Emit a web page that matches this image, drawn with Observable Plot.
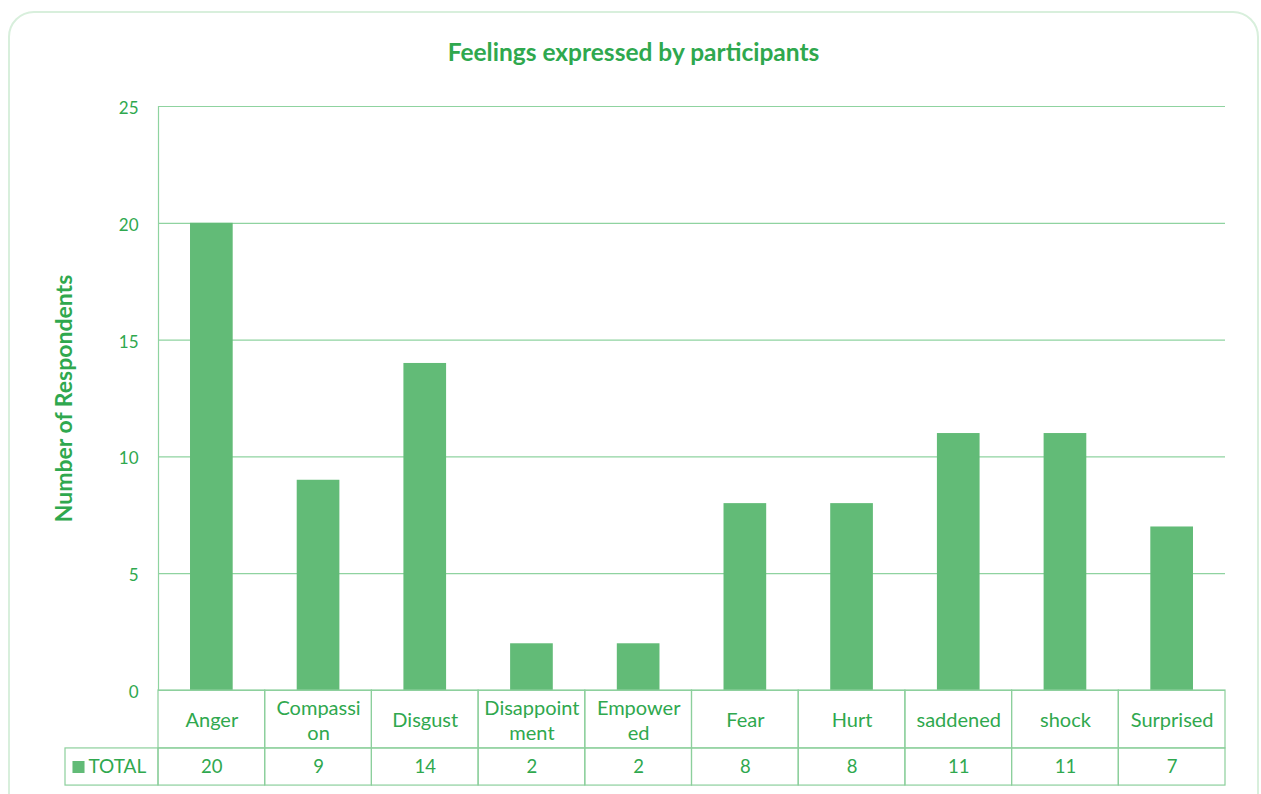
<!DOCTYPE html>
<html><head><meta charset="utf-8">
<script src="https://cdn.jsdelivr.net/npm/d3@7"></script>
<script src="https://cdn.jsdelivr.net/npm/@observablehq/plot@0.6"></script>
<style>
body{margin:0;background:#fff;}
#wrap{position:relative;width:1261px;height:794px;overflow:hidden;font-family:Lato,"Open Sans",sans-serif;}
#card{position:absolute;left:8px;top:11px;width:1251px;height:820px;border:2px solid #d8efdc;border-radius:26px;box-sizing:border-box;}
#title{position:absolute;left:8px;width:1251px;top:37px;text-align:center;color:#2fa84e;font-weight:bold;font-size:24.5px;}
#chart{position:absolute;left:0;top:0;}
</style></head><body>
<div id="wrap"><div id="card"></div><div id="title">Feelings expressed by participants</div><div id="chart"></div></div>
<script>
const feelings = ["Anger","Compassion","Disgust","Disappointment","Empowered","Fear","Hurt","saddened","shock","Surprised"];
const labels = ["Anger","Compassi\non","Disgust","Disappoint\nment","Empower\ned","Fear","Hurt","saddened","shock","Surprised"];
const totals = [20,9,14,2,2,8,8,11,11,7];
const yTicks = [0,5,10,15,20,25];
const seriesName = "TOTAL";
const yTitle = "Number of Respondents";

const data = feelings.map((f,i)=>({feeling:f, label:labels[i], total:totals[i]}));

const W = 1261, H = 794, ML = 158, MR = 36, MT = 106, MB = 104;
const step = (W - ML - MR) / feelings.length;
const pad = step * 0.3, bw = step * 0.4;
const textColor = "#2fa84e", barColor = "#62bb77", gridColor = "#8fd3a0", tableColor = "#8ccf9c";
const row1 = -2.48, row2 = -4.07;

const plot = Plot.plot({
  width: W, height: H,
  marginLeft: ML, marginRight: MR, marginTop: MT, marginBottom: MB,
  style: {background: "transparent", color: textColor, fontFamily: "Lato, 'Open Sans', sans-serif"},
  x: {domain: feelings, paddingInner: 0.6, paddingOuter: 0.3, round: false, axis: null},
  y: {domain: [0, 25], axis: null},
  marks: [
    Plot.gridY(yTicks, {stroke: gridColor, strokeOpacity: 1, strokeWidth: 1.2}),
    Plot.axisY(yTicks, {tickSize: 0, tickPadding: 20, fontSize: 17, label: null, fill: textColor, dy: 2}),
    Plot.text([yTitle], {frameAnchor: "left", textAnchor: "middle", dx: -94, rotate: -90, fontSize: 23, fontWeight: "bold", fill: textColor}),
    Plot.ruleX([feelings[0]], {x: d => d, y1: 0, y2: 25, dx: -(pad + bw/2), stroke: gridColor, strokeWidth: 1.2}),
    Plot.barY(data, {x: "feeling", y: "total", fill: barColor}),
    Plot.barY(data, {x: "feeling", y1: 0, y2: row1, fill: "none", stroke: tableColor, strokeWidth: 1.2, insetLeft: -pad, insetRight: -pad}),
    Plot.barY(data, {x: "feeling", y1: row1, y2: row2, fill: "none", stroke: tableColor, strokeWidth: 1.2, insetLeft: -pad, insetRight: -pad}),
    Plot.barY([feelings[0]], {x: d => d, y1: row1, y2: row2, fill: "none", stroke: tableColor, strokeWidth: 1.2, insetLeft: -(pad + 93), insetRight: bw + pad}),
    Plot.text(data, {x: "feeling", y: row1/2, text: "label", fontSize: 20, lineHeight: 1.25, fill: textColor}),
    Plot.text(data, {x: "feeling", y: (row1+row2)/2, text: d => String(d.total), fontSize: 18.5, fill: textColor}),
    Plot.dot([feelings[0]], {x: d => d, y: (row1+row2)/2, symbol: "square", r: 6.8, fill: barColor, dx: -(bw/2 + pad + 80)}),
    Plot.text([seriesName], {x: () => feelings[0], y: (row1+row2)/2, text: d => d, textAnchor: "start", dx: -(bw/2 + pad + 70), fontSize: 19, fill: textColor})
  ]
});
document.getElementById("chart").appendChild(plot);
</script>
</body></html>
